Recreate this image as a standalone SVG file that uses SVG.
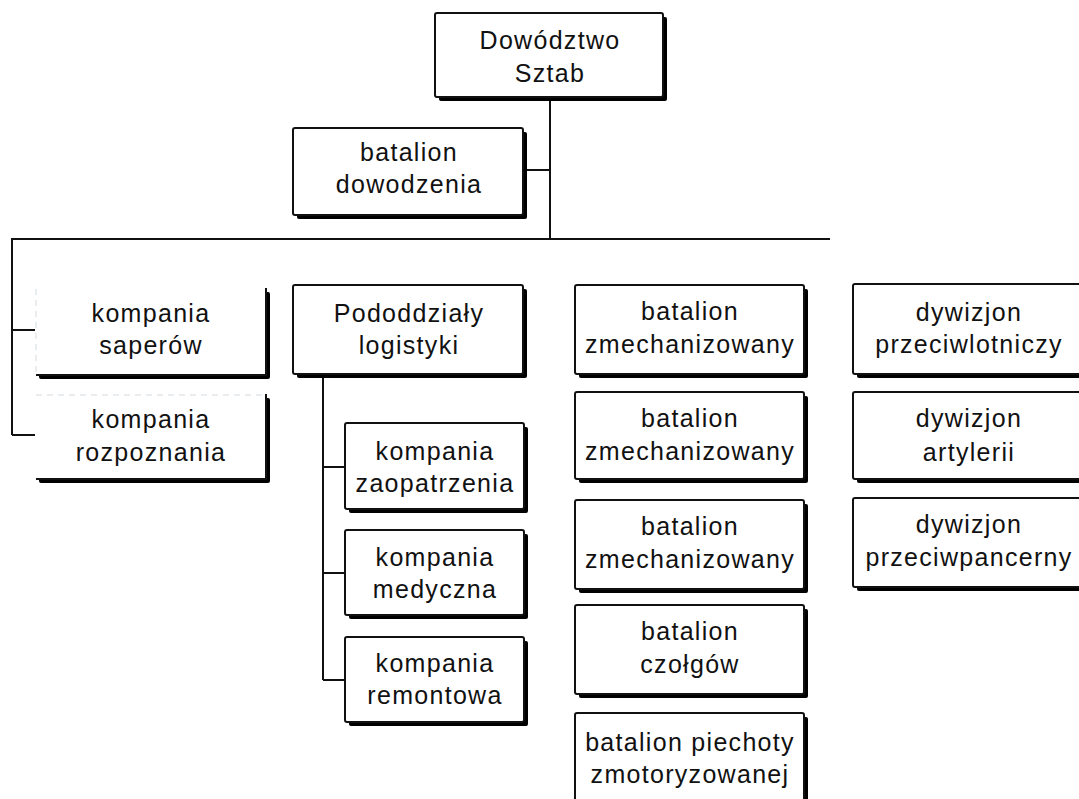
<svg xmlns="http://www.w3.org/2000/svg" width="1079" height="799" viewBox="0 0 1079 799">
  <style>
    .shadow { fill: #000; }
    .box { fill: #fff; stroke: #111; stroke-width: 2; }
    .open { fill: #fff; stroke: none; }
    .edge { fill: none; stroke: #111; stroke-width: 2; }
    .faint { fill: none; stroke: #e4e8ec; stroke-width: 1.5; stroke-dasharray: 6 5; }
    .lbl { font-family: "Liberation Sans", Arial, sans-serif; font-size: 25px; letter-spacing: 1.3px; fill: #111; text-anchor: middle; }
    .wire { fill: none; stroke: #111; stroke-width: 2; }
  </style>

  <!-- connectors -->
  <g id="connectors">
    <path class="wire" d="M550,97 V239"/>
    <path class="wire" d="M527,170 H550"/>
    <path class="wire" d="M11,239 H830"/>
    <path class="wire" d="M12,239 V435 M12,330 H35 M12,435 H35"/>
    <path class="wire" d="M323,378 V680 M323,467 H345 M323,573 H345 M323,680 H345"/>
  </g>

  <!-- headquarters -->
  <g id="dowodztwo">
    <rect class="shadow" x="439" y="17" width="228" height="84" rx="2"/>
    <rect class="box" x="435" y="13" width="228" height="84" rx="2"/>
    <text class="lbl" x="550" y="49">Dowództwo</text>
    <text class="lbl" x="550" y="82">Sztab</text>
  </g>

  <g id="batalion-dowodzenia">
    <rect class="shadow" x="297" y="132" width="230" height="87" rx="2"/>
    <rect class="box" x="293" y="128" width="230" height="87" rx="2"/>
    <text class="lbl" x="409" y="161">batalion</text>
    <text class="lbl" x="409" y="193">dowodzenia</text>
  </g>

  <!-- left column: border faded on the top and left sides -->
  <g id="kompania-saperow">
    <rect class="shadow" x="39" y="292" width="231" height="87" rx="2"/>
    <rect class="open" x="35" y="288" width="231" height="87"/>
    <path class="faint" d="M36,289 V374"/>
    <path class="edge" d="M266,288 V375 H36"/>
    <text class="lbl" x="151" y="322">kompania</text>
    <text class="lbl" x="151" y="354">saperów</text>
  </g>

  <g id="kompania-rozpoznania">
    <rect class="shadow" x="39" y="398" width="231" height="85" rx="2"/>
    <rect class="open" x="35" y="394" width="231" height="85"/>
    <path class="faint" d="M36,395 H266"/>
    <path class="edge" d="M266,394 V479 H36"/>
    <text class="lbl" x="151" y="428">kompania</text>
    <text class="lbl" x="151" y="461">rozpoznania</text>
  </g>

  <!-- logistics -->
  <g id="pododdzialy-logistyki">
    <rect class="shadow" x="297" y="289" width="230" height="89" rx="2"/>
    <rect class="box" x="293" y="285" width="230" height="89" rx="2"/>
    <text class="lbl" x="409" y="322">Pododdziały</text>
    <text class="lbl" x="409" y="354">logistyki</text>
  </g>

  <g id="kompania-zaopatrzenia">
    <rect class="shadow" x="349" y="427" width="179" height="86" rx="2"/>
    <rect class="box" x="345" y="423" width="179" height="86" rx="2"/>
    <text class="lbl" x="435" y="460">kompania</text>
    <text class="lbl" x="435" y="492">zaopatrzenia</text>
  </g>

  <g id="kompania-medyczna">
    <rect class="shadow" x="349" y="534" width="179" height="85" rx="2"/>
    <rect class="box" x="345" y="530" width="179" height="85" rx="2"/>
    <text class="lbl" x="435" y="566">kompania</text>
    <text class="lbl" x="435" y="598">medyczna</text>
  </g>

  <g id="kompania-remontowa">
    <rect class="shadow" x="349" y="641" width="179" height="85" rx="2"/>
    <rect class="box" x="345" y="637" width="179" height="85" rx="2"/>
    <text class="lbl" x="435" y="672">kompania</text>
    <text class="lbl" x="435" y="704">remontowa</text>
  </g>

  <!-- battalions -->
  <g id="batalion-zmechanizowany-1">
    <rect class="shadow" x="579" y="289" width="229" height="89" rx="2"/>
    <rect class="box" x="575" y="285" width="229" height="89" rx="2"/>
    <text class="lbl" x="690" y="320">batalion</text>
    <text class="lbl" x="690" y="353">zmechanizowany</text>
  </g>

  <g id="batalion-zmechanizowany-2">
    <rect class="shadow" x="579" y="396" width="229" height="87" rx="2"/>
    <rect class="box" x="575" y="392" width="229" height="87" rx="2"/>
    <text class="lbl" x="690" y="427">batalion</text>
    <text class="lbl" x="690" y="460">zmechanizowany</text>
  </g>

  <g id="batalion-zmechanizowany-3">
    <rect class="shadow" x="579" y="504" width="229" height="89" rx="2"/>
    <rect class="box" x="575" y="500" width="229" height="89" rx="2"/>
    <text class="lbl" x="690" y="535">batalion</text>
    <text class="lbl" x="690" y="568">zmechanizowany</text>
  </g>

  <g id="batalion-czolgow">
    <rect class="shadow" x="579" y="609" width="229" height="89" rx="2"/>
    <rect class="box" x="575" y="605" width="229" height="89" rx="2"/>
    <text class="lbl" x="690" y="640">batalion</text>
    <text class="lbl" x="690" y="673">czołgów</text>
  </g>

  <g id="batalion-piechoty-zmotoryzowanej">
    <rect class="shadow" x="579" y="717" width="229" height="100" rx="2"/>
    <rect class="box" x="575" y="713" width="229" height="100" rx="2"/>
    <text class="lbl" x="690" y="751">batalion piechoty</text>
    <text class="lbl" x="690" y="783">zmotoryzowanej</text>
  </g>

  <!-- artillery squadrons (run past the right edge) -->
  <g id="dywizjon-przeciwlotniczy">
    <rect class="shadow" x="857" y="288" width="232" height="90" rx="2"/>
    <rect class="box" x="853" y="284" width="232" height="90" rx="2"/>
    <text class="lbl" x="969" y="321">dywizjon</text>
    <text class="lbl" x="969" y="353">przeciwlotniczy</text>
  </g>

  <g id="dywizjon-artylerii">
    <rect class="shadow" x="857" y="396" width="232" height="87" rx="2"/>
    <rect class="box" x="853" y="392" width="232" height="87" rx="2"/>
    <text class="lbl" x="969" y="427">dywizjon</text>
    <text class="lbl" x="969" y="461">artylerii</text>
  </g>

  <g id="dywizjon-przeciwpancerny">
    <rect class="shadow" x="857" y="502" width="232" height="89" rx="2"/>
    <rect class="box" x="853" y="498" width="232" height="89" rx="2"/>
    <text class="lbl" x="969" y="533">dywizjon</text>
    <text class="lbl" x="969" y="566">przeciwpancerny</text>
  </g>
</svg>
